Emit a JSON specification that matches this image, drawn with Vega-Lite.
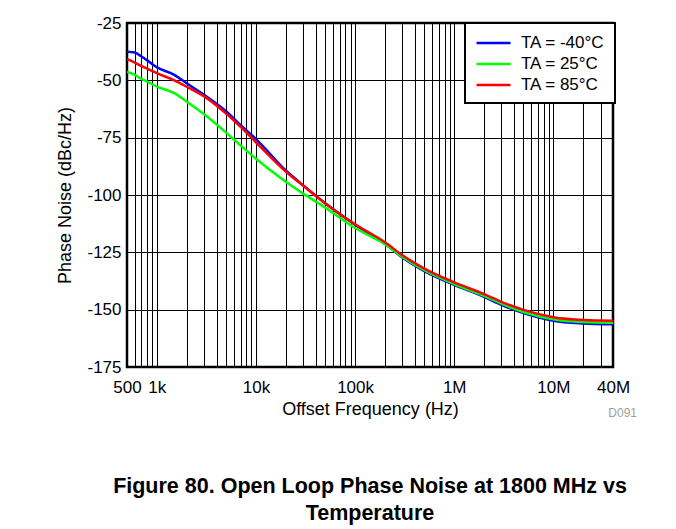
{
  "$schema": "https://vega.github.io/schema/vega-lite/v6.json",
  "width": 486,
  "height": 344,
  "autosize": {"type": "none"},
  "padding": {"left": 127, "top": 23, "right": 63, "bottom": 162},
  "background": "white",
  "title": {
    "text": ["Figure 80. Open Loop Phase Noise at 1800 MHz vs", "Temperature"],
    "orient": "bottom",
    "anchor": "middle",
    "font": "Liberation Sans",
    "fontSize": 21.5,
    "fontWeight": "bold",
    "color": "#000000",
    "lineHeight": 27,
    "offset": 57
  },
  "config": {
    "font": "Liberation Sans",
    "view": {"stroke": "#000000", "strokeWidth": 2.5},
    "axis": {
      "labelFont": "Liberation Sans",
      "titleFont": "Liberation Sans",
      "labelFontSize": 17,
      "titleFontSize": 18,
      "titleFontWeight": "normal",
      "labelColor": "#000000",
      "titleColor": "#000000",
      "gridColor": "#000000",
      "gridOpacity": 1,
      "gridWidth": 1,
      "domain": false,
      "ticks": false
    }
  },
  "layer": [
    {
      "data": {
        "values": [
          {"f": 500, "pn": -37.5, "temp": "TA = -40°C"},
          {"f": 600, "pn": -37.9, "temp": "TA = -40°C"},
          {"f": 700, "pn": -39.6, "temp": "TA = -40°C"},
          {"f": 800, "pn": -41.3, "temp": "TA = -40°C"},
          {"f": 1000, "pn": -44.3, "temp": "TA = -40°C"},
          {"f": 1500, "pn": -47.6, "temp": "TA = -40°C"},
          {"f": 2000, "pn": -51.3, "temp": "TA = -40°C"},
          {"f": 3000, "pn": -56.3, "temp": "TA = -40°C"},
          {"f": 5000, "pn": -63.5, "temp": "TA = -40°C"},
          {"f": 7000, "pn": -69.6, "temp": "TA = -40°C"},
          {"f": 10000, "pn": -75.6, "temp": "TA = -40°C"},
          {"f": 20000, "pn": -89.3, "temp": "TA = -40°C"},
          {"f": 30000, "pn": -95.8, "temp": "TA = -40°C"},
          {"f": 50000, "pn": -103.6, "temp": "TA = -40°C"},
          {"f": 100000, "pn": -113.0, "temp": "TA = -40°C"},
          {"f": 200000, "pn": -121.1, "temp": "TA = -40°C"},
          {"f": 300000, "pn": -127.3, "temp": "TA = -40°C"},
          {"f": 500000, "pn": -133.2, "temp": "TA = -40°C"},
          {"f": 1000000, "pn": -139.2, "temp": "TA = -40°C"},
          {"f": 2000000, "pn": -144.4, "temp": "TA = -40°C"},
          {"f": 3000000, "pn": -147.9, "temp": "TA = -40°C"},
          {"f": 5000000, "pn": -151.5, "temp": "TA = -40°C"},
          {"f": 10000000, "pn": -154.8, "temp": "TA = -40°C"},
          {"f": 20000000, "pn": -156.0, "temp": "TA = -40°C"},
          {"f": 40000000, "pn": -156.4, "temp": "TA = -40°C"},
          {"f": 500, "pn": -46.3, "temp": "TA = 25°C"},
          {"f": 600, "pn": -47.6, "temp": "TA = 25°C"},
          {"f": 700, "pn": -49.4, "temp": "TA = 25°C"},
          {"f": 800, "pn": -50.6, "temp": "TA = 25°C"},
          {"f": 1000, "pn": -52.7, "temp": "TA = 25°C"},
          {"f": 1500, "pn": -55.6, "temp": "TA = 25°C"},
          {"f": 2000, "pn": -59.3, "temp": "TA = 25°C"},
          {"f": 3000, "pn": -64.8, "temp": "TA = 25°C"},
          {"f": 5000, "pn": -72.8, "temp": "TA = 25°C"},
          {"f": 7000, "pn": -78.4, "temp": "TA = 25°C"},
          {"f": 10000, "pn": -84.2, "temp": "TA = 25°C"},
          {"f": 20000, "pn": -94.2, "temp": "TA = 25°C"},
          {"f": 30000, "pn": -99.4, "temp": "TA = 25°C"},
          {"f": 50000, "pn": -105.5, "temp": "TA = 25°C"},
          {"f": 100000, "pn": -114.4, "temp": "TA = 25°C"},
          {"f": 200000, "pn": -121.5, "temp": "TA = 25°C"},
          {"f": 300000, "pn": -127.0, "temp": "TA = 25°C"},
          {"f": 500000, "pn": -132.8, "temp": "TA = 25°C"},
          {"f": 1000000, "pn": -138.8, "temp": "TA = 25°C"},
          {"f": 2000000, "pn": -144.0, "temp": "TA = 25°C"},
          {"f": 3000000, "pn": -147.4, "temp": "TA = 25°C"},
          {"f": 5000000, "pn": -151.0, "temp": "TA = 25°C"},
          {"f": 10000000, "pn": -154.2, "temp": "TA = 25°C"},
          {"f": 20000000, "pn": -155.4, "temp": "TA = 25°C"},
          {"f": 40000000, "pn": -155.7, "temp": "TA = 25°C"},
          {"f": 500, "pn": -40.8, "temp": "TA = 85°C"},
          {"f": 600, "pn": -42.3, "temp": "TA = 85°C"},
          {"f": 700, "pn": -43.8, "temp": "TA = 85°C"},
          {"f": 800, "pn": -44.9, "temp": "TA = 85°C"},
          {"f": 1000, "pn": -46.9, "temp": "TA = 85°C"},
          {"f": 1500, "pn": -50.0, "temp": "TA = 85°C"},
          {"f": 2000, "pn": -52.8, "temp": "TA = 85°C"},
          {"f": 3000, "pn": -57.0, "temp": "TA = 85°C"},
          {"f": 5000, "pn": -64.5, "temp": "TA = 85°C"},
          {"f": 7000, "pn": -70.3, "temp": "TA = 85°C"},
          {"f": 10000, "pn": -77.0, "temp": "TA = 85°C"},
          {"f": 20000, "pn": -89.8, "temp": "TA = 85°C"},
          {"f": 30000, "pn": -96.0, "temp": "TA = 85°C"},
          {"f": 50000, "pn": -103.7, "temp": "TA = 85°C"},
          {"f": 100000, "pn": -112.8, "temp": "TA = 85°C"},
          {"f": 200000, "pn": -120.6, "temp": "TA = 85°C"},
          {"f": 300000, "pn": -126.3, "temp": "TA = 85°C"},
          {"f": 500000, "pn": -132.1, "temp": "TA = 85°C"},
          {"f": 1000000, "pn": -138.1, "temp": "TA = 85°C"},
          {"f": 2000000, "pn": -143.2, "temp": "TA = 85°C"},
          {"f": 3000000, "pn": -146.6, "temp": "TA = 85°C"},
          {"f": 5000000, "pn": -150.1, "temp": "TA = 85°C"},
          {"f": 10000000, "pn": -153.3, "temp": "TA = 85°C"},
          {"f": 20000000, "pn": -154.5, "temp": "TA = 85°C"},
          {"f": 40000000, "pn": -154.8, "temp": "TA = 85°C"}
        ]
      },
      "mark": {"type": "line", "strokeWidth": 2.5, "clip": true, "interpolate": "monotone"},
      "encoding": {
        "x": {
          "field": "f",
          "type": "quantitative",
          "scale": {"type": "log", "domain": [500, 40000000], "nice": false},
          "axis": {
            "title": "Offset Frequency (Hz)",
            "values": [500, 600, 700, 800, 900, 1000, 2000, 3000, 4000, 5000, 6000, 7000, 8000, 9000, 10000, 20000, 30000, 40000, 50000, 60000, 70000, 80000, 90000, 100000, 200000, 300000, 400000, 500000, 600000, 700000, 800000, 900000, 1000000, 2000000, 3000000, 4000000, 5000000, 6000000, 7000000, 8000000, 9000000, 10000000, 20000000, 30000000, 40000000],
            "labelExpr": "datum.value == 500 ? '500' : datum.value == 1000 ? '1k' : datum.value == 10000 ? '10k' : datum.value == 100000 ? '100k' : datum.value == 1000000 ? '1M' : datum.value == 10000000 ? '10M' : datum.value == 40000000 ? '40M' : ''",
            "labelOverlap": false,
            "labelBound": false,
            "labelFlush": false,
            "labelPadding": 12,
            "titlePadding": 5
          }
        },
        "y": {
          "field": "pn",
          "type": "quantitative",
          "scale": {"domain": [-175, -25], "nice": false, "zero": false},
          "axis": {
            "title": "Phase Noise (dBc/Hz)",
            "values": [-175, -150, -125, -100, -75, -50, -25],
            "labelExpr": "'' + datum.value",
            "labelPadding": 6,
            "titlePadding": 12
          }
        },
        "color": {
          "field": "temp",
          "type": "nominal",
          "scale": {"domain": ["TA = -40°C", "TA = 25°C", "TA = 85°C"], "range": ["#0000FF", "#00FF00", "#FF0000"]},
          "legend": {
            "title": null,
            "orient": "none",
            "legendX": 338,
            "legendY": 0,
            "fillColor": "#FFFFFF",
            "strokeColor": "#000000",
            "padding": 10,
            "rowPadding": 3,
            "symbolType": "M-1,0H3",
            "symbolSize": 289,
            "symbolStrokeWidth": 2.5,
            "labelFont": "Liberation Sans",
            "labelFontSize": 17,
            "labelColor": "#000000",
            "labelOffset": 26,
            "encode": {"legend": {"update": {"strokeWidth": {"value": 2}}}}
          }
        }
      }
    },
    {
      "data": {"values": [{"note": "D091"}]},
      "mark": {"type": "text", "align": "right", "baseline": "top", "dx": 24, "dy": 41, "fontSize": 12, "color": "#A0A0A0", "font": "Liberation Sans"},
      "encoding": {
        "text": {"field": "note"},
        "x": {"datum": 40000000},
        "y": {"datum": -175}
      }
    }
  ]
}
